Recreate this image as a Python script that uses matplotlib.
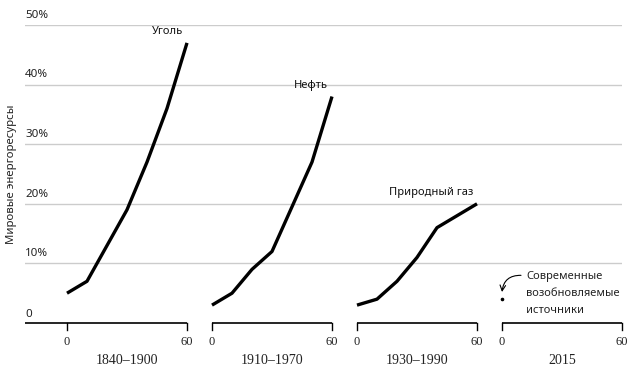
import matplotlib.pyplot as plt

# Share of world energy supply (%) in the first 60 years of each source
years = [0, 10, 20, 30, 40, 50, 60]
coal = [5, 7, 13, 19, 27, 36, 47]
oil = [3, 5, 9, 12, 19.5, 27, 38]
gas = [3, 4, 7, 11, 16, 18, 20]
renew_years = [0]
renew = [4]

series_names = ["Уголь", "Нефть", "Природный газ"]
periods = ["1840–1900", "1910–1970", "1930–1990", "2015"]
grid_vals = [10, 20, 30, 40, 50]
grid_labels = ["10%", "20%", "30%", "40%", "50%"]

# horizontal offset of each panel (in years) on the shared axes
offsets = [0, 72.5, 145, 217.5]

sans = "Noto Sans"
serif = "Liberation Serif"

fig = plt.figure(figsize=(6.34, 3.70), dpi=100)
ax = fig.add_axes([25 / 634, 47 / 370, 597 / 634, 298 / 370])
ax.set_xlim(-21, 277.5)
ax.set_ylim(0, 50)
ax.axis("off")

# gridlines and y labels
for v, lab in zip(grid_vals, grid_labels):
    ax.axhline(v, color="#cccccc", lw=1.0, zorder=1)
    ax.annotate(lab, xy=(0, v), xycoords=("axes fraction", "data"),
                xytext=(0, 3), textcoords="offset points",
                ha="left", va="bottom", fontsize=8.3, family=sans, color="#222222")
ax.annotate("0", xy=(0, 0), xycoords=("axes fraction", "data"),
            xytext=(0, 2), textcoords="offset points",
            ha="left", va="bottom", fontsize=8.3, family=sans, color="#222222")

fig.text(12 / 634, 1 - 174 / 370, "Мировые энергоресурсы", rotation=90,
         ha="center", va="center", fontsize=8.2, family=sans, color="#222222")

# bottom axis for each panel
for i, (off, per) in enumerate(zip(offsets, periods)):
    start = -21 if i == 0 else off
    ax.plot([start, off + 60], [0, 0], color="black", lw=1.2,
            clip_on=False, solid_capstyle="butt")
    for t in (0, 60):
        ax.plot([off + t, off + t], [0, -1.1], color="black", lw=1.0,
                clip_on=False)
        ax.annotate(str(t), xy=(off + t, 0), xytext=(0, -14),
                    textcoords="offset points", ha="center", va="center",
                    fontsize=9, family=serif, color="#222222")
    ax.annotate(per, xy=(off + 30, 0), xytext=(0, -27),
                textcoords="offset points", ha="center", va="center",
                fontsize=10, family=serif, color="#222222")

# the curves
for off, vals, name in zip(offsets, [coal, oil, gas], series_names):
    xs = [off + y for y in years]
    ax.plot(xs, vals, color="black", lw=2.4, solid_joinstyle="round",
            solid_capstyle="butt", zorder=3)
    ax.annotate(name, xy=(xs[-1], vals[-1]), xytext=(-3, 4),
                textcoords="offset points", ha="right", va="bottom",
                fontsize=8, family=sans, color="#111111")

# modern renewables
r_x = [offsets[3] + y for y in renew_years]
ax.plot(r_x, renew, "o", color="black", ms=1.6, zorder=3)
ax.annotate("", xy=(r_x[0], renew[0] + 1.2), xytext=(r_x[0] + 9.5, 8.0),
            arrowprops=dict(arrowstyle="->", lw=0.8, color="black",
                            connectionstyle="arc3,rad=0.45",
                            shrinkA=0, shrinkB=0))
ax.text(r_x[0] + 12, 8.8, "Современные\nвозобновляемые\nисточники",
        ha="left", va="top", fontsize=8, family=sans, color="#222222",
        linespacing=1.75)

fig.savefig("out.png", dpi=100, facecolor="white")
